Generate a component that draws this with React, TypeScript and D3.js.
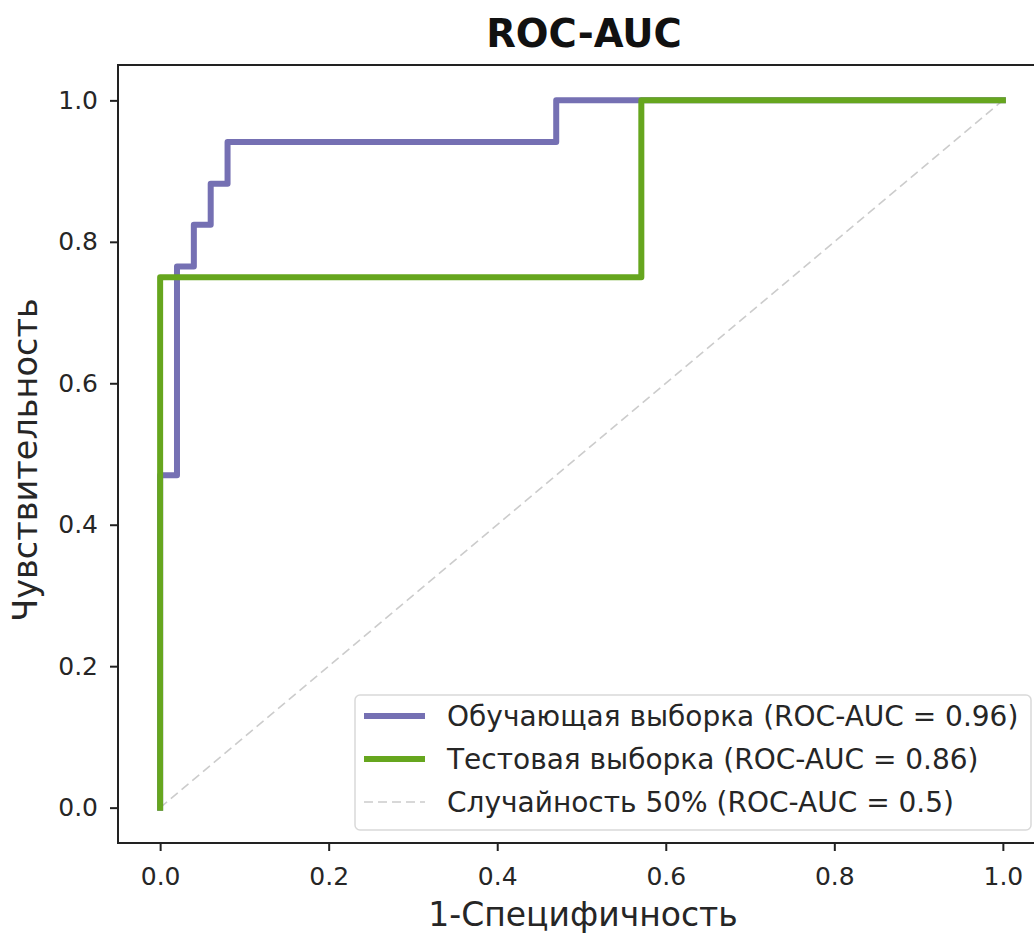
import React, { useEffect, useRef } from "react";
import * as d3 from "d3";

// ROC points (1-specificity, sensitivity)
const trainFpr = [0, 0, 0.02, 0.02, 0.04, 0.04, 0.06, 0.06, 0.08, 0.08, 0.47, 0.47, 1];
const trainTpr = [0, 0.47, 0.47, 0.765, 0.765, 0.824, 0.824, 0.882, 0.882, 0.941, 0.941, 1, 1];
const testFpr = [0, 0, 0.571, 0.571, 1];
const testTpr = [0, 0.75, 0.75, 1, 1];
const chanceFpr = [0, 1];
const chanceTpr = [0, 1];

const ticks = [0, 0.2, 0.4, 0.6, 0.8, 1.0];
const legendLabels = [
  "Обучающая выборка (ROC-AUC = 0.96)",
  "Тестовая выборка (ROC-AUC = 0.86)",
  "Случайность 50% (ROC-AUC = 0.5)",
];
const colors = ["#7570b3", "#66a61e", "#cccccc"];

const W = 1034;
const H = 934;
const FONT = "DejaVu Sans, sans-serif";

export default function App() {
  const ref = useRef<SVGSVGElement>(null);

  useEffect(() => {
    const svg = d3.select(ref.current);
    svg.selectAll("*").remove();

    const left = 118;
    const right = 1045;
    const top = 65;
    const bottom = 843;

    const x = d3.scaleLinear().domain([-0.05, 1.05]).range([left, right]);
    const y = d3.scaleLinear().domain([-0.05, 1.05]).range([bottom, top]);

    const line = d3
      .line<[number, number]>()
      .x((d) => x(d[0]))
      .y((d) => y(d[1]));

    const zip = (a: number[], b: number[]) =>
      a.map((v, i) => [v, b[i]] as [number, number]);

    // chance diagonal
    svg
      .append("path")
      .attr("d", line(zip(chanceFpr, chanceTpr)))
      .attr("fill", "none")
      .attr("stroke", colors[2])
      .attr("stroke-width", 1.6)
      .attr("stroke-dasharray", "9,5");

    const series = [zip(trainFpr, trainTpr), zip(testFpr, testTpr)];
    series.forEach((s, i) => {
      svg
        .append("path")
        .attr("d", line(s))
        .attr("fill", "none")
        .attr("stroke", colors[i])
        .attr("stroke-width", 6)
        .attr("stroke-linejoin", "round")
        .attr("stroke-linecap", "square");
    });

    // axes
    const xAxis = svg
      .append("g")
      .attr("transform", `translate(0,${bottom})`)
      .call(
        d3
          .axisBottom(x)
          .tickValues(ticks)
          .tickFormat(d3.format(".1f"))
          .tickSizeInner(8)
          .tickSizeOuter(0)
          .tickPadding(16)
      );
    const yAxis = svg
      .append("g")
      .attr("transform", `translate(${left},0)`)
      .call(
        d3
          .axisLeft(y)
          .tickValues(ticks)
          .tickFormat(d3.format(".1f"))
          .tickSizeInner(8)
          .tickSizeOuter(0)
          .tickPadding(12)
      );
    [xAxis, yAxis].forEach((g) => {
      g.select(".domain").remove();
      g.selectAll(".tick line").attr("stroke", "#222").attr("stroke-width", 2);
      g.selectAll(".tick text")
        .attr("fill", "#262626")
        .style("font-family", FONT)
        .style("font-size", "25px");
    });

    // frame
    svg
      .append("rect")
      .attr("x", left)
      .attr("y", top)
      .attr("width", right - left)
      .attr("height", bottom - top)
      .attr("fill", "none")
      .attr("stroke", "#222")
      .attr("stroke-width", 2);

    // title & labels
    svg
      .append("text")
      .attr("x", 584)
      .attr("y", 47)
      .attr("text-anchor", "middle")
      .style("font-family", FONT)
      .style("font-size", "38.5px")
      .style("font-weight", "bold")
      .attr("fill", "#111")
      .text("ROC-AUC");

    svg
      .append("text")
      .attr("x", 583)
      .attr("y", 926)
      .attr("text-anchor", "middle")
      .style("font-family", FONT)
      .style("font-size", "33px")
      .attr("fill", "#262626")
      .text("1-Специфичность");

    svg
      .append("text")
      .attr("transform", `translate(37,460) rotate(-90)`)
      .attr("text-anchor", "middle")
      .style("font-family", FONT)
      .style("font-size", "33.5px")
      .attr("fill", "#262626")
      .text("Чувствительность");

    // legend
    const lg = svg.append("g");
    lg.append("rect")
      .attr("x", 355)
      .attr("y", 695)
      .attr("width", 676)
      .attr("height", 135)
      .attr("rx", 5)
      .attr("fill", "white")
      .attr("fill-opacity", 0.8)
      .attr("stroke", "#d9d9d9")
      .attr("stroke-width", 1.5);

    legendLabels.forEach((label, i) => {
      const cy = 716 + i * 43;
      lg.append("line")
        .attr("x1", 364)
        .attr("x2", 425)
        .attr("y1", cy)
        .attr("y2", cy)
        .attr("stroke", colors[i])
        .attr("stroke-width", i < 2 ? 6 : 1.6)
        .attr("stroke-dasharray", i < 2 ? null : "9,5");
      lg.append("text")
        .attr("x", 447)
        .attr("y", cy)
        .attr("dy", "0.35em")
        .style("font-family", FONT)
        .style("font-size", "28px")
        .attr("fill", "#262626")
        .text(label);
    });
  }, []);

  return (
    <div>
      <svg
        ref={ref}
        width={W}
        height={H}
        style={{ position: "absolute", left: 0, top: 0, overflow: "hidden" }}
      ></svg>
    </div>
  );
}
